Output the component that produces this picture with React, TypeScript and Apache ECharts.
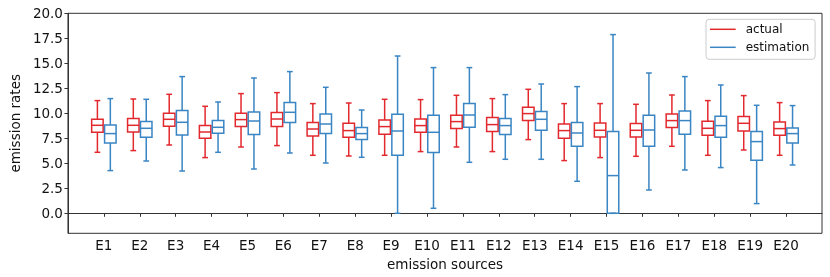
import React, { useEffect, useRef } from "react";
import * as echarts from "echarts";

const sources = ["E1","E2","E3","E4","E5","E6","E7","E8","E9","E10","E11","E12","E13","E14","E15","E16","E17","E18","E19","E20"];

// [lower whisker, q1, median, q3, upper whisker]
const actual = [
  [6.1, 8.1, 8.8, 9.4, 11.27],
  [6.27, 8.13, 8.8, 9.47, 11.43],
  [6.83, 8.7, 9.4, 10.0, 11.9],
  [5.57, 7.5, 8.13, 8.77, 10.7],
  [6.63, 8.67, 9.37, 10.0, 11.97],
  [6.77, 8.67, 9.43, 10.07, 12.07],
  [5.8, 7.73, 8.43, 9.07, 10.97],
  [5.73, 7.6, 8.27, 9.0, 11.03],
  [5.8, 7.9, 8.67, 9.33, 11.4],
  [6.17, 8.1, 8.77, 9.43, 11.37],
  [6.63, 8.47, 9.17, 9.8, 11.8],
  [6.17, 8.17, 8.87, 9.57, 11.47],
  [7.37, 9.27, 9.97, 10.6, 12.4],
  [5.27, 7.5, 8.27, 8.93, 10.97],
  [5.57, 7.63, 8.3, 9.03, 10.97],
  [5.7, 7.63, 8.3, 8.97, 10.9],
  [6.7, 8.57, 9.27, 9.93, 11.83],
  [5.8, 7.8, 8.5, 9.2, 11.27],
  [6.33, 8.23, 9.0, 9.67, 11.77],
  [5.8, 7.8, 8.47, 9.13, 11.07],
];

const estimation = [
  [4.27, 7.03, 7.97, 8.83, 11.47],
  [5.23, 7.6, 8.5, 9.17, 11.4],
  [4.23, 7.83, 9.1, 10.27, 13.67],
  [6.1, 8.0, 8.6, 9.27, 11.13],
  [4.43, 7.87, 9.23, 10.13, 13.53],
  [6.03, 9.07, 10.1, 11.07, 14.17],
  [5.03, 7.97, 8.93, 9.93, 12.6],
  [5.6, 7.37, 7.97, 8.57, 10.33],
  [0.0, 5.8, 8.23, 9.9, 15.73],
  [0.5, 6.07, 8.1, 9.8, 14.57],
  [5.1, 8.6, 9.83, 10.97, 14.57],
  [5.4, 7.87, 8.77, 9.47, 11.87],
  [5.4, 8.3, 9.4, 10.17, 12.93],
  [3.2, 6.7, 8.03, 9.07, 12.67],
  [0.0, 0.0, 3.77, 8.17, 17.87],
  [2.33, 6.7, 8.33, 9.8, 14.03],
  [4.33, 7.9, 9.27, 10.23, 13.67],
  [4.57, 7.6, 8.77, 9.7, 12.83],
  [0.97, 5.3, 7.17, 8.17, 10.8],
  [4.83, 7.03, 7.97, 8.53, 10.77],
];

const yTicks = [0, 2.5, 5, 7.5, 10, 12.5, 15, 17.5, 20];

const RED = "#e2292e";
const BLUE = "#3a85c3";
const FONT = "DejaVu Sans";

function makeRender(shift: number, color: string) {
  return (_params: any, api: any) => {
    const idx = api.value(0);
    const lo = api.value(1), q1 = api.value(2), med = api.value(3), q3 = api.value(4), hi = api.value(5);
    const band = api.size([1, 0])[0];
    const cx = api.coord([idx, 0])[0] + shift * band;
    const half = band * 0.16;
    const cap = half * 0.5;
    const y = (v: number) => api.coord([idx, v])[1];
    const style = { stroke: color, lineWidth: 1.5, fill: null };
    return {
      type: "group",
      children: [
        { type: "rect", shape: { x: cx - half, y: y(q3), width: 2 * half, height: y(q1) - y(q3) }, style },
        { type: "line", shape: { x1: cx - half, y1: y(med), x2: cx + half, y2: y(med) }, style },
        { type: "line", shape: { x1: cx, y1: y(q3), x2: cx, y2: y(hi) }, style },
        { type: "line", shape: { x1: cx, y1: y(q1), x2: cx, y2: y(lo) }, style },
        { type: "line", shape: { x1: cx - cap, y1: y(hi), x2: cx + cap, y2: y(hi) }, style },
        { type: "line", shape: { x1: cx - cap, y1: y(lo), x2: cx + cap, y2: y(lo) }, style },
      ],
    };
  };
}

export default function App() {
  const ref = useRef<HTMLDivElement>(null);
  useEffect(() => {
    const chart = echarts.init(ref.current!, null, { renderer: "svg" });
    const cats = ["", ...sources, ""];
    chart.setOption({
      animation: false,
      textStyle: { fontFamily: FONT },
      grid: { left: 61, right: 8, top: 13.3, bottom: 43.7, show: true, borderColor: "#333", borderWidth: 1 },
      legend: {
        left: 706,
        top: 19.3,
        orient: "vertical",
        data: ["actual", "estimation"],
        icon: "rect",
        itemWidth: 25.7,
        itemHeight: 1.5,
        itemGap: 4,
        padding: [3, 5.7, 5, 4],
        borderColor: "#cccccc",
        borderWidth: 1,
        borderRadius: 3,
        textStyle: { fontFamily: FONT, fontSize: 12, color: "#111", lineHeight: 14, padding: [0, 0, 0, 5] },
      },
      xAxis: {
        type: "category",
        data: cats,
        boundaryGap: false,
        name: "emission sources",
        nameLocation: "middle",
        nameGap: 17,
        nameTextStyle: { fontFamily: FONT, fontSize: 13.5, color: "#111" },
        axisLine: { show: true, lineStyle: { color: "#333", width: 1 } },
        axisTick: { show: true, length: 3.5, interval: (i: number) => i > 0 && i < cats.length - 1, lineStyle: { color: "#333" } },
        axisLabel: { interval: 0, margin: 5, fontFamily: FONT, fontSize: 13.5, color: "#111" },
        splitLine: { show: false },
      },
      yAxis: {
        type: "value",
        min: -2,
        max: 20,
        name: "emission rates",
        nameLocation: "middle",
        nameGap: 37,
        nameTextStyle: { fontFamily: FONT, fontSize: 13.5, color: "#111" },
        axisLine: { show: true, lineStyle: { color: "#333", width: 1 } },
        axisTick: { show: true, length: 3.5, customValues: yTicks, lineStyle: { color: "#333" } },
        axisLabel: { customValues: yTicks, margin: 5, fontFamily: FONT, fontSize: 13.5, color: "#111", formatter: (v: number) => v.toFixed(1) },
        splitLine: { show: false },
      },
      series: [
        {
          name: "actual",
          type: "custom",
          itemStyle: { color: RED },
          renderItem: makeRender(-0.18, RED),
          encode: { x: 0, y: [1, 2, 3, 4, 5] },
          data: actual.map((d, i) => [i + 1, ...d]),
        },
        {
          name: "estimation",
          type: "custom",
          itemStyle: { color: BLUE },
          renderItem: makeRender(0.18, BLUE),
          encode: { x: 0, y: [1, 2, 3, 4, 5] },
          data: estimation.map((d, i) => [i + 1, ...d]),
        },
      ],
    });
    return () => chart.dispose();
  }, []);
  return <div ref={ref} style={{ position: "fixed", left: 0, top: 0, width: 830, height: 277 }} />;
}
